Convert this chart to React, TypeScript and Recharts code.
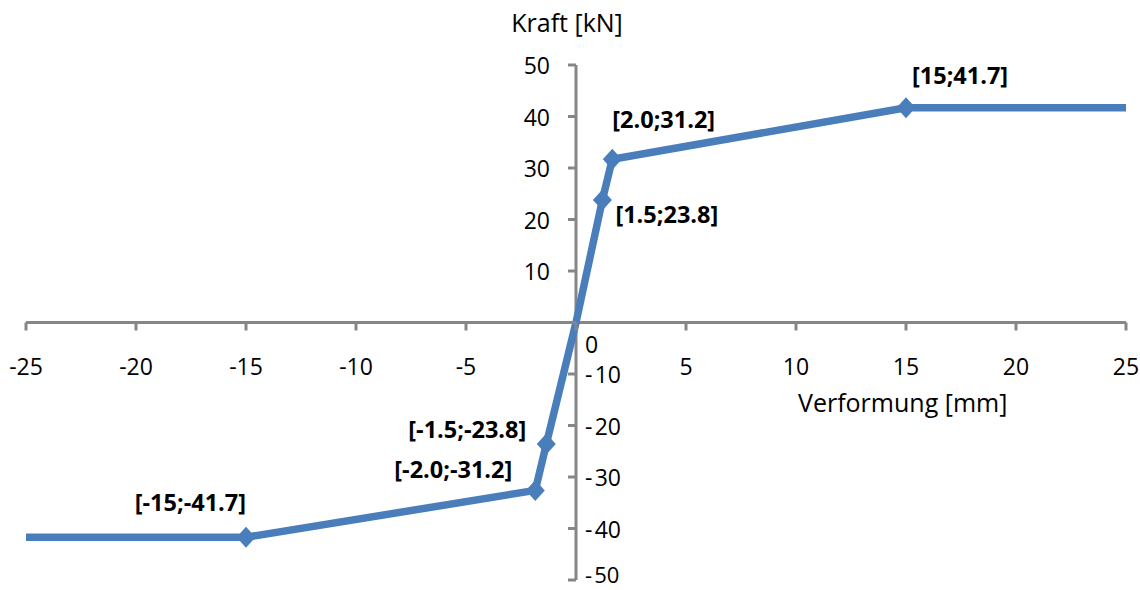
import React from 'react';
import { LineChart, Line, XAxis, YAxis, ReferenceLine, ReferenceDot } from 'recharts';

// Verformung [mm] and Kraft [kN]
const xValues = [-25, -15, -1.85, -1.35, 0, 1.2, 1.65, 15, 25];
const yValues = [-41.7, -41.7, -32.6, -23.6, 0, 23.8, 31.7, 41.7, 41.7];
const pointLabels = ['', '[-15;-41.7]', '[-2.0;-31.2]', '[-1.5;-23.8]', '', '[1.5;23.8]', '[2.0;31.2]', '[15;41.7]', ''];

const xTicks = [-25, -20, -15, -10, -5, 0, 5, 10, 15, 20, 25];
const yTicks = [-50, -40, -30, -20, -10, 0, 10, 20, 30, 40, 50];

const chartData = xValues.map((x, i) => ({ x, y: yValues[i] }));

// where each data label sits relative to its marker
const labelLayout: Record<number, { dx: number; dy: number; anchor: 'start' | 'end' }> = {
  1: { dx: 0, dy: -35, anchor: 'end' },
  2: { dx: -23, dy: -21, anchor: 'end' },
  3: { dx: -20, dy: -15, anchor: 'end' },
  5: { dx: 13, dy: 14, anchor: 'start' },
  6: { dx: 0, dy: -40, anchor: 'start' },
  7: { dx: 6, dy: -33, anchor: 'start' },
};

const FONT = '"Open Sans", sans-serif';
const AXIS = '#868686';
const BLUE = '#4a7ebb';

const fmt = (v: number) => (v < 0 ? '-\u200A' + Math.abs(v) : String(v));

const xTickShape = (t: number) => (props: any) => {
  const { cx, cy } = props;
  return (
    <g>
      <line x1={cx} y1={cy} x2={cx} y2={cy + 8} stroke={AXIS} strokeWidth={3} />
      {t === 0 ? (
        <text x={cx + 9} y={cy + 21} textAnchor="start" dominantBaseline="central" fontSize={23} fontFamily={FONT} fill="#000">0</text>
      ) : (
        <text x={cx} y={cy + 43} textAnchor="middle" dominantBaseline="central" fontSize={23} fontFamily={FONT} fill="#000">{String(t)}</text>
      )}
    </g>
  );
};

const yTickShape = (t: number) => (props: any) => {
  const { cx, cy } = props;
  // the lowest label sits right at the bottom edge, nudge it up so it stays whole
  const bottom = t === -50;
  return (
    <g>
      <line x1={cx - 8} y1={cy} x2={cx} y2={cy} stroke={AXIS} strokeWidth={3} />
      {t > 0 && (
        <text x={cx - 26} y={cy} textAnchor="end" dominantBaseline="central" fontSize={23} fontFamily={FONT} fill="#000">{String(t)}</text>
      )}
      {t < 0 && (
        <text x={cx + 9} y={bottom ? cy - 6 : cy} textAnchor="start" dominantBaseline="central" fontSize={bottom ? 22 : 23} fontFamily={FONT} fill="#000">{fmt(t)}</text>
      )}
    </g>
  );
};

const renderDot = (props: any) => {
  const { cx, cy, index } = props;
  const label = pointLabels[index];
  if (!label) return <g key={`dot-${index}`} />;
  const o = labelLayout[index];
  return (
    <g key={`dot-${index}`}>
      <path d={`M${cx},${cy - 10.5} L${cx + 9.5},${cy} L${cx},${cy + 10.5} L${cx - 9.5},${cy} Z`} fill={BLUE} />
      <text
        x={cx + o.dx}
        y={cy + o.dy}
        textAnchor={o.anchor}
        dominantBaseline="central"
        fontSize={23.5}
        fontWeight="bold"
        fontFamily={FONT}
        fill="#000"
      >
        {label}
      </text>
    </g>
  );
};

const App: React.FC = () => {
  return (
    <div style={{ position: 'absolute', left: 0, top: 0, width: 1140, height: 590, background: '#fff' }}>
      <LineChart width={1140} height={590} data={chartData} margin={{ top: 65, right: 14, bottom: 10, left: 26 }}>
        <XAxis type="number" dataKey="x" domain={[-25, 25]} ticks={xTicks} hide />
        <YAxis type="number" domain={[-50, 50]} ticks={yTicks} hide />
        <ReferenceLine y={0} stroke={AXIS} strokeWidth={3} />
        <ReferenceLine x={0} stroke={AXIS} strokeWidth={3} />
        {xTicks.map((t) => (
          <ReferenceDot key={`xt${t}`} x={t} y={0} r={0} ifOverflow="visible" shape={xTickShape(t)} />
        ))}
        {yTicks.map((t) => (
          <ReferenceDot key={`yt${t}`} x={0} y={t} r={0} ifOverflow="visible" shape={yTickShape(t)} />
        ))}
        <Line
          type="linear"
          dataKey="y"
          stroke={BLUE}
          strokeWidth={7.5}
          strokeLinejoin="round"
          dot={renderDot}
          activeDot={false}
          isAnimationActive={false}
        />
        <text x={567} y={22} textAnchor="middle" dominantBaseline="central" fontSize={25} fontFamily={FONT} fill="#000">Kraft [kN]</text>
        <text x={798} y={402} textAnchor="start" dominantBaseline="central" fontSize={25} fontFamily={FONT} fill="#000">Verformung [mm]</text>
      </LineChart>
    </div>
  );
};

export default App;
